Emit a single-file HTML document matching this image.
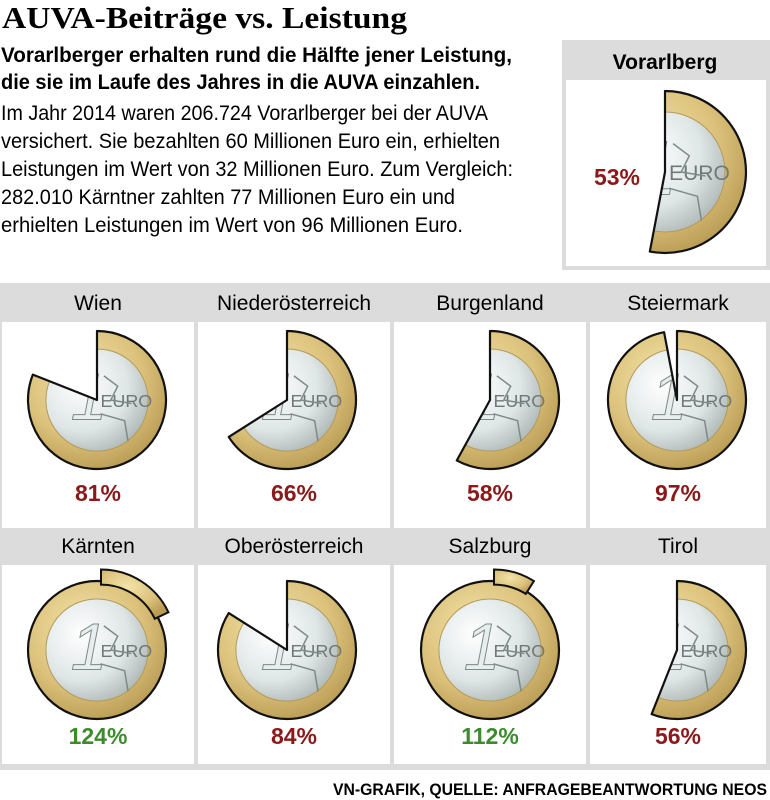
<!DOCTYPE html>
<html><head><meta charset="utf-8">
<style>
html,body{margin:0;padding:0;background:#fff;}
svg{display:block;}
text{font-family:"Liberation Sans",sans-serif;}
</style></head>
<body>
<svg id="chart" width="770" height="800" viewBox="0 0 770 800" xmlns="http://www.w3.org/2000/svg">
<defs>
  <radialGradient id="gold" cx="40%" cy="35%" r="70%">
    <stop offset="0" stop-color="#f3e3a8"/>
    <stop offset="0.6" stop-color="#dcc27c"/>
    <stop offset="1" stop-color="#b89a52"/>
  </radialGradient>
  <radialGradient id="silver" cx="35%" cy="35%" r="75%">
    <stop offset="0" stop-color="#ffffff"/>
    <stop offset="0.6" stop-color="#dfe6e6"/>
    <stop offset="1" stop-color="#a9b4b2"/>
  </radialGradient>
</defs>
<g>
  <text x="2" y="28" font-weight="bold" font-size="31" textLength="405" lengthAdjust="spacingAndGlyphs" style="font-family:'Liberation Serif',serif">AUVA-Beiträge vs. Leistung</text>
  <text x="1" y="62" font-weight="bold" font-size="21" textLength="511" lengthAdjust="spacingAndGlyphs">Vorarlberger erhalten rund die Hälfte jener Leistung,</text>
  <text x="1" y="89" font-weight="bold" font-size="21" textLength="479" lengthAdjust="spacingAndGlyphs">die sie im Laufe des Jahres in die AUVA einzahlen.</text>
  <text x="1" y="120" font-size="21" textLength="487" lengthAdjust="spacingAndGlyphs">Im Jahr 2014 waren 206.724 Vorarlberger bei der AUVA</text>
  <text x="1" y="148" font-size="21" textLength="499" lengthAdjust="spacingAndGlyphs">versichert. Sie bezahlten 60 Millionen Euro ein, erhielten</text>
  <text x="1" y="176" font-size="21" textLength="512" lengthAdjust="spacingAndGlyphs">Leistungen im Wert von 32 Millionen Euro. Zum Vergleich:</text>
  <text x="1" y="204" font-size="21" textLength="454" lengthAdjust="spacingAndGlyphs">282.010 Kärntner zahlten 77 Millionen Euro ein und</text>
  <text x="1" y="232" font-size="21" textLength="462" lengthAdjust="spacingAndGlyphs">erhielten Leistungen im Wert von 96 Millionen Euro.</text>
</g>
<g id="feature">
  <rect x="562" y="40" width="208" height="230" fill="#dcdcdc"/>
  <rect x="566" y="80" width="200" height="186" fill="#fff"/>
  <text x="665" y="69" text-anchor="middle" font-weight="bold" font-size="21">Vorarlberg</text>
</g>
<g id="grid">
  <rect x="0" y="283" width="770" height="487" fill="#dcdcdc"/>
</g>
<text x="767" y="795" text-anchor="end" font-weight="bold" font-size="17" textLength="434" lengthAdjust="spacingAndGlyphs">VN-GRAFIK, QUELLE: ANFRAGEBEANTWORTUNG NEOS</text>
</svg>
<script>
const regions = ["Wien","Niederösterreich","Burgenland","Steiermark","Kärnten","Oberösterreich","Salzburg","Tirol"];
const shares = [81,66,58,97,124,84,112,56];
const featureRegion = "Vorarlberg";
const featureShare = 53;

const NS = "http://www.w3.org/2000/svg";
const svg = document.getElementById("chart");
const grid = document.getElementById("grid");
const feature = document.getElementById("feature");
const colX = [2,198,394,590];
const colW = [192,192,192,176];
const coinCX = [97,287,490,677];
const rowTop = [285,528];

function mk(tag, attrs, parent){
  const e = document.createElementNS(NS, tag);
  for (const k in attrs) e.setAttribute(k, attrs[k]);
  parent.appendChild(e);
  return e;
}
function pt(cx,cy,r,a){ return [cx + r*Math.sin(a), cy - r*Math.cos(a)]; }
function wedgePath(cx,cy,r,frac){
  if (frac >= 1) return null;
  const a = frac*2*Math.PI;
  const p = pt(cx,cy,r,a);
  const large = frac > 0.5 ? 1 : 0;
  return `M${cx},${cy} L${cx},${cy-r} A${r},${r} 0 ${large} 1 ${p[0].toFixed(2)},${p[1].toFixed(2)} Z`;
}
function annulusPath(cx,cy,r1,r2,frac){
  const a = frac*2*Math.PI;
  const p1 = pt(cx,cy,r2,0), p2 = pt(cx,cy,r2,a), p3 = pt(cx,cy,r1,a), p4 = pt(cx,cy,r1,0);
  const large = frac > 0.5 ? 1 : 0;
  return `M${p1[0]},${p1[1]} A${r2},${r2} 0 ${large} 1 ${p2[0]},${p2[1]} L${p3[0]},${p3[1]} A${r1},${r1} 0 ${large} 0 ${p4[0]},${p4[1]} Z`;
}
let clipId = 0;
function drawCoin(parent, cx, cy, r, value){
  const frac = value/100;
  const g = mk("g", {}, parent);
  
  
  const d = wedgePath(cx,cy,r,frac);
  const body = mk("g", {}, g);
  if (d){
    const id = "clip" + (clipId++);
    const cp = mk("clipPath", {id:id}, svg);
    mk("path", {d:d}, cp);
    body.setAttribute("clip-path", `url(#${id})`);
  }
  mk("circle", {cx:cx, cy:cy, r:r, fill:"url(#gold)"}, body);
  mk("circle", {cx:cx, cy:cy, r:r*0.74, fill:"url(#silver)", stroke:"#b59a5a", "stroke-width":1}, body);
  const one = mk("text", {x:cx - r*0.38, y:cy + r*0.28, "font-size":r*0.95, "font-style":"italic", fill:"#e8eeee", stroke:"#7d8a88", "stroke-width":1, "font-family":"Liberation Serif, serif"}, body);
  one.textContent = "1";
  const euro = mk("text", {x:cx + r*0.05, y:cy + r*0.1, "font-size":r*0.26, fill:"#6f7a78", "font-family":"Liberation Serif, serif"}, body);
  euro.textContent = "EURO";
  mk("path", {d:`M${cx+r*0.1},${cy-r*0.35} l${r*0.2},${r*0.15} l-${r*0.1},${r*0.2} l${r*0.3},${r*0.05} M${cx+r*0.05},${cy+r*0.2} l${r*0.35},${r*0.1} l${r*0.05},${r*0.3}`, fill:"none", stroke:"#7d8a88", "stroke-width":1.5}, body);
  if (d){
    mk("path", {d:d, fill:"none", stroke:"#111", "stroke-width":2.2, "stroke-linejoin":"round"}, g);
  } else {
    mk("circle", {cx:cx, cy:cy, r:r, fill:"none", stroke:"#111", "stroke-width":2.2}, g);
    const extra = frac - 1;
    if (extra > 0){
      const ex = mk("path", {d:annulusPath(cx + 4, cy - 6, r*0.86, r*1.08, extra*0.75), fill:"url(#gold)", stroke:"#111", "stroke-width":2}, g);
      
      
    }
  }
}

regions.forEach((name, i) => {
  const col = i % 4, row = Math.floor(i/4);
  const x = colX[col], w = colW[col], top = rowTop[row];
  const cell = mk("g", {}, grid);
  
  
  mk("rect", {x:x, y:top+37, width:w, height:row===0?206:199, fill:"#fff"}, cell);
  const t = mk("text", {x:x + w/2, y:top+25, "text-anchor":"middle", "font-size":21}, cell);
  
  
  t.textContent = name;
  const cy = top + 115 + (row===1 ? 7 : 0);
  drawCoin(cell, coinCX[col], cy, 69, shares[i]);
  const p = mk("text", {x:x + w/2, y:top+216, "text-anchor":"middle", "font-size":23, "font-weight":"bold", fill: shares[i] >= 100 ? "#3c8c2e" : "#8a1a1a"}, cell);
  
  
  p.textContent = shares[i] + "%";
});

drawCoin(feature, 665, 172, 81, featureShare);
const fl = mk("text", {x:617, y:185, "text-anchor":"middle", "font-size":23, "font-weight":"bold", fill:"#8a1a1a"}, feature);


fl.textContent = featureShare + "%";
</script>
</body></html>
